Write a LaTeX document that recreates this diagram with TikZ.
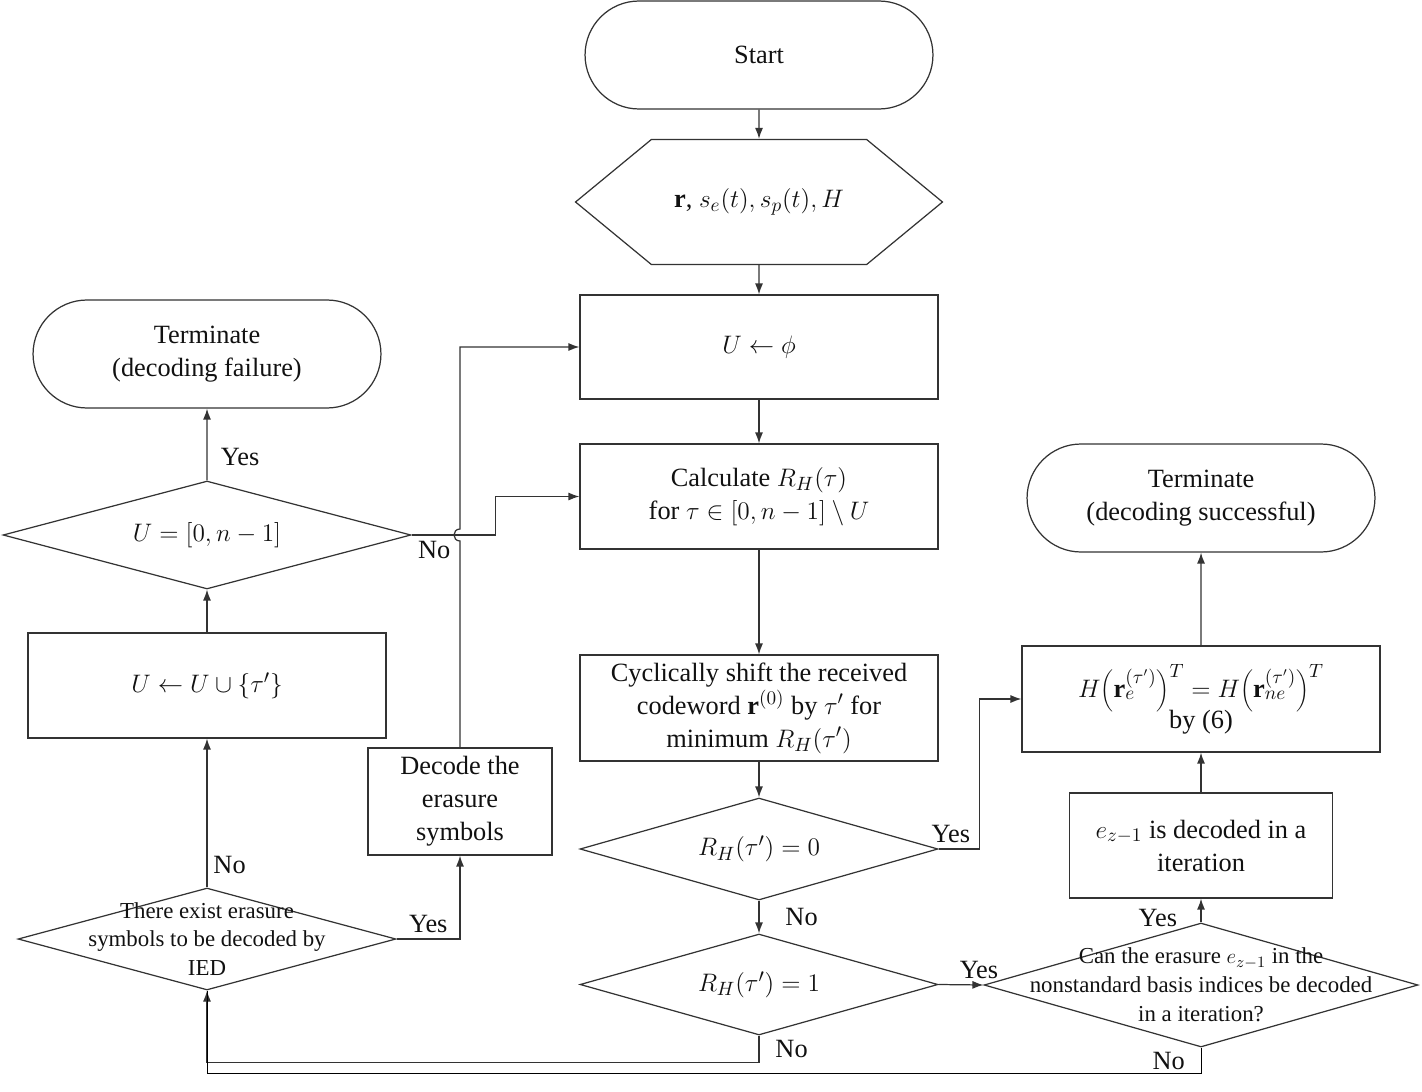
\documentclass[tikz,border=0pt]{standalone}
\usepackage{fontspec}
\setmainfont{Liberation Serif}
\usetikzlibrary{shapes.geometric, shapes.misc, shapes.symbols, arrows.meta, positioning, calc}
\definecolor{LineGray}{HTML}{333333}
\definecolor{TextDark}{HTML}{111111}

\begin{document}
\begin{tikzpicture}[
    x=0.02cm, y=-0.02cm,
    base/.style={draw=LineGray, line width=0.7pt, inner sep=2pt, align=center, text=TextDark, font=\fontsize{15}{18.8}\selectfont},
    term/.style={base, rounded rectangle, minimum width=7.1cm, minimum height=2.16cm},
    proc/.style={base, rectangle, minimum width=7.16cm, minimum height=2.1cm},
    io/.style={base, signal, signal to=west and east, signal pointer angle=79, minimum width=7.34cm, minimum height=2.5cm},
    dec/.style={base, diamond, aspect=3.5, inner sep=0pt, minimum width=7.16cm, minimum height=2.04cm},
    qtext/.style={font=\fontsize{13}{16.4}\selectfont, align=center, text=TextDark},
    arr/.style={-{Latex[length=2.2mm, width=1.6mm]}, line width=0.7pt, LineGray},
    lbl/.style={font=\fontsize{15}{18}\selectfont, text=TextDark}
  ]
  \useasboundingbox (0,0) rectangle (1422,1091);

  % main column
  \node[term] (Start) at (759,55) {Start};
  \node[io] (Input) at (759,202) {$\mathbf{r}$, $s_e(t), s_p(t), H$};
  \node[proc, minimum height=2.08cm] (Uphi) at (759,347) {$U \leftarrow \phi$};
  \node[proc] (Calc) at (759,496.5) {Calculate $R_H(\tau)$\\ for $\tau \in [0,n-1] \setminus U$};
  \node[proc, minimum height=2.12cm] (Shift) at (759,708) {Cyclically shift the received\\ codeword $\mathbf{r}^{(0)}$ by $\tau'$ for\\ minimum $R_H(\tau')$};
  \node[dec] (Rzero) at (759,849) {$R_H(\tau') = 0$};
  \node[dec, minimum height=2.02cm] (Rone) at (759,984.5) {$R_H(\tau') = 1$};

  % left column
  \node[term] (Fail) at (207,354) {Terminate\\ (decoding failure)};
  \node[dec, minimum width=8.16cm, minimum height=2.16cm] (Full) at (207,535) {$U = [0,n-1]$};
  \node[proc] (Add) at (207,685.5) {$U \leftarrow U \cup \{\tau'\}$};
  \node[proc, minimum width=3.68cm, minimum height=2.14cm] (Decode) at (460,801.5) {Decode the\\ erasure\\ symbols};
  \node[dec, minimum width=7.56cm, label={[qtext]center:{There exist erasure\\ symbols to be decoded by\\ IED}}] (IED) at (207,939) {};

  % right column
  \node[term] (Done) at (1201,498) {Terminate\\ (decoding successful)};
  \node[proc, minimum height=2.12cm] (Check) at (1201,699) {$H\bigg(\mathbf{r}_{e}^{(\tau')}\bigg)^{T} = H\bigg(\mathbf{r}_{ne}^{(\tau')}\bigg)^{T}$\\[-2pt] by (6)};
  \node[proc, minimum width=5.26cm] (Iter) at (1201,845.5) {$e_{z-1}$ is decoded in a\\ iteration};
  \node[dec, minimum width=8.68cm, minimum height=2.48cm, label={[qtext]center:{Can the erasure $e_{z-1}$ in the\\ nonstandard basis indices be decoded\\ in a iteration?}}] (Can) at (1201,985) {};

  \coordinate (hop) at (Decode.north |- Full.east);

  % connectors
  \draw[arr] (Start) -- (Input);
  \draw[arr] (Input) -- (Uphi);
  \draw[arr] (Uphi) -- (Calc);
  \draw[arr] (Calc) -- (Shift);
  \draw[arr] (Shift) -- (Rzero);
  \draw[arr] (Rzero) -- node[lbl, right=0.4cm] {No} (Rone);
  \draw[arr] (Rzero.east) -- node[lbl, above, pos=0.3] {Yes} ++(41,0) |- (Check.west);
  \draw[arr] (Rone.east) -- node[lbl, above, pos=0.9] {Yes} (Can.west);
  \draw[arr] (Can) -- node[lbl, left=0.35cm, pos=0.2] {Yes} (Iter);
  \draw[arr] (Iter) -- (Check);
  \draw[arr] (Check) -- (Done);
  \draw[arr] (Rone.south) -- node[lbl, right=0.2cm] {No} ++(0,27) -| (IED.south);
  \draw (Can.south) -- node[lbl, left=0.2cm] {No} ++(0,26) -| (IED.south);
  \draw[arr] (IED) -- node[lbl, right, pos=0.15] {No} (Add);
  \draw[arr] (IED.east) -- node[lbl, above] {Yes} (IED.east -| Decode.south) -- (Decode.south);
  \draw[arr] (Decode.north) -- ([yshift=-0.12cm]hop)
    .. controls ([xshift=-0.16cm, yshift=-0.12cm]hop) and ([xshift=-0.16cm, yshift=0.12cm]hop) .. ([yshift=0.12cm]hop)
    |- (Uphi.west);
  \draw[arr] (Add) -- (Full);
  \draw[arr] (Full) -- node[lbl, right=0.15cm, pos=0.33] {Yes} (Fail);
  \draw[arr] (Full.east) -- node[lbl, below, pos=0.27] {No} ++(84,0) |- (Calc.west);
\end{tikzpicture}
\end{document}
